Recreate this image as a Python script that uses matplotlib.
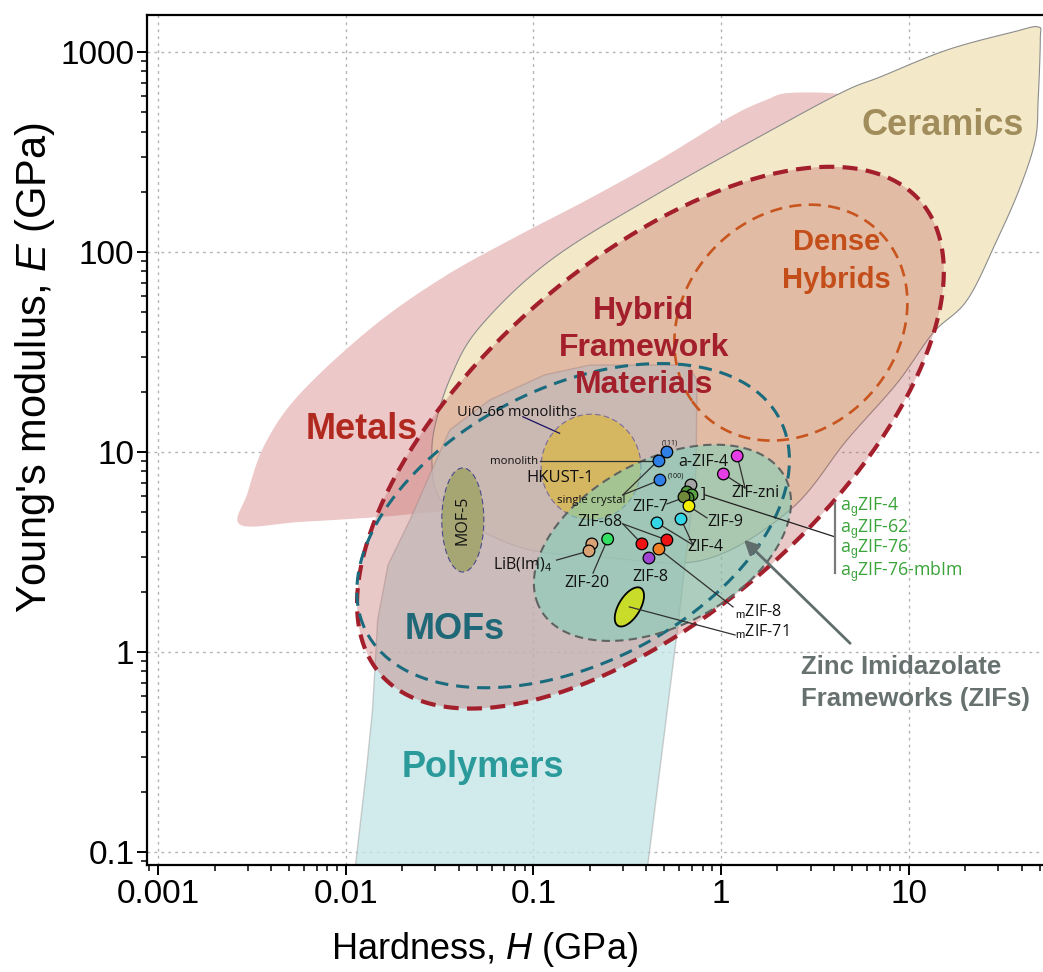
import numpy as np
import matplotlib
matplotlib.use("Agg")
import matplotlib.pyplot as plt
from matplotlib.ticker import FixedLocator, LogLocator, NullFormatter

plt.rcParams['font.family'] = ['Liberation Sans', 'DejaVu Sans']
plt.rcParams['mathtext.fontset'] = 'custom'
plt.rcParams['mathtext.rm'] = 'Liberation Sans'
plt.rcParams['mathtext.it'] = 'Liberation Sans:italic'
plt.rcParams['mathtext.bf'] = 'Liberation Sans:bold'

# ---- region outlines (H = hardness, E = modulus, both GPa)
metals_H = [0.00275, 0.0030, 0.00374, 0.00575, 0.0139, 0.0333, 0.0807, 0.193, 0.467,
            1.117, 1.738, 2.33, 4.70, 9.0, 16.6, 9.0, 3.37, 0.773, 0.226, 0.0519,
            0.0317, 0.0152, 0.00575]
metals_E = [4.32, 6.24, 11.1, 19.7, 42.2, 75.0, 119, 182, 288,
            473, 575, 624, 610, 513, 182, 40.7, 11.5, 4.07, 3.85, 4.84,
            5.01, 4.73, 4.47]

ceram_H = [49.0, 36.1, 16.0, 7.05, 4.70, 2.33, 0.467, 0.124, 0.0519, 0.0363, 0.0298,
           0.0288, 0.0302, 0.0359, 0.0519, 0.0958, 0.226, 0.802, 2.33, 4.70, 8.68,
           13.5, 20.5, 29.6, 39.3, 47.3, 49.0, 50.3]
ceram_E = [1334, 1259, 1023, 750, 646, 457, 197, 91.2, 42.2, 23.7, 13.3,
           9.12, 6.46, 5.13, 4.07, 3.24, 2.99, 2.88, 5.13, 11.5, 22.1,
           39.4, 57.5, 115, 211, 363, 575, 1148]

poly_H = [0.0108, 0.388, 0.590, 0.736, 0.745, 0.667, 0.200, 0.115, 0.0586, 0.0359,
          0.0288, 0.0220, 0.0168, 0.0148, 0.0143, 0.0139, 0.0129]
poly_E = [0.06, 0.06, 1.36, 8.04, 22.9, 27.2, 27.2, 24.3, 18.2, 12.9,
          8.13, 4.57, 2.72, 1.445, 0.813, 0.513, 0.257]

hfm_H = [2.06, 4.70, 8.68, 12.5, 15.3, 14.2, 10.6, 6.01, 3.50, 2.64, 1.76, 0.988, 0.582,
         0.315, 0.138, 0.0958, 0.0391, 0.0187, 0.0123, 0.01145, 0.0152, 0.0281, 0.0416,
         0.124, 0.467]
hfm_E = [248, 263, 211, 150, 84.1, 39.4, 22.1, 10.2, 4.73, 3.35, 2.29, 1.97, 1.33,
         0.912, 0.646, 0.575, 0.513, 0.575, 0.881, 1.76, 4.57, 11.9, 21.6,
         72.4, 145]

mofs_H = [0.200, 0.718, 1.738, 2.25, 2.11, 1.675, 1.262, 0.582, 0.315, 0.138, 0.0639,
          0.0317, 0.0187, 0.0146, 0.0139, 0.0168, 0.0228, 0.0317, 0.0639]
mofs_E = [24.3, 22.9, 16.2, 11.1, 4.73, 3.24, 2.21, 1.55, 1.15, 0.861, 0.684,
          0.631, 0.708, 0.912, 1.76, 3.76, 6.68, 10.6, 19.7]

dense_H = [3.50, 2.33, 1.117, 0.718, 0.575, 0.718, 1.393, 2.06, 3.81, 7.05, 9.35, 9.82, 6.2]
dense_E = [178, 168, 124, 75.0, 35.1, 16.2, 11.9, 11.9, 13.3, 22.1, 39.4, 70.0, 129]

zif_H = [0.802, 1.217, 1.825, 2.25, 2.14, 1.675, 1.117, 0.604, 0.327, 0.177, 0.112,
         0.0958, 0.108, 0.177, 0.327, 0.627]
zif_E = [11.2, 10.6, 8.41, 5.75, 3.63, 2.57, 1.88, 1.33, 1.19, 1.24, 1.50,
         2.11, 3.24, 5.31, 7.94, 11.1]

# small ellipses: centre H, centre E, semi-axes (decades), angle (deg)
hkust_ell = (0.203, 8.41, 0.266, 0.264, 0)
mof5_ell = (0.0421, 4.57, 0.26, 0.112, 90)
mzif71_ell = (0.325, 1.68, 0.112, 0.056, 56)

# ---- individual materials
pt_names = ["HKUST-1 (111)", "HKUST-1 monolith", "HKUST-1 (100)", "ZIF-zni", "ZIF-zni",
            "agZIF", "agZIF", "agZIF", "agZIF", "ZIF-7", "ZIF-9", "ZIF-4", "ZIF-4",
            "ZIF-68", "ZIF-68", "mZIF-8", "ZIF-8", "ZIF-20", "LiB(Im)4", "LiB(Im)4"]
pt_H = [0.515, 0.467, 0.473, 1.22, 1.03, 0.692, 0.659, 0.70, 0.667, 0.635, 0.675,
        0.456, 0.612, 0.379, 0.515, 0.467, 0.413, 0.249, 0.205, 0.198]
pt_E = [10.0, 9.02, 7.24, 9.55, 7.76, 6.84, 6.31, 6.10, 5.89, 5.96, 5.37,
        4.42, 4.62, 3.47, 3.63, 3.27, 2.95, 3.67, 3.47, 3.20]
pt_col = ["#2f80e6", "#2f80e6", "#2f80e6", "#e43ee4", "#e43ee4",
          "#a4a4a4", "#4f9a3c", "#5aa444", "#4a8f36", "#6e8a3a", "#f2f000",
          "#34d6e6", "#34d6e6", "#ee1414", "#ee1414", "#f08022", "#a044d2",
          "#34e062", "#d9a274", "#d9a274"]

xticks = [0.001, 0.01, 0.1, 1, 10]
xtick_labels = ["0.001", "0.01", "0.1", "1", "10"]
yticks = [0.1, 1, 10, 100, 1000]
ytick_labels = ["0.1", "1", "10", "100", "1000"]


def smooth_closed(H, E, n=24):
    P = np.column_stack([np.log10(H), np.log10(E)])
    N = len(P)
    t = np.linspace(0, 1, n, endpoint=False)[:, None]
    out = []
    for i in range(N):
        p0, p1, p2, p3 = P[i - 1], P[i], P[(i + 1) % N], P[(i + 2) % N]
        out.append(0.5 * (2 * p1 + (p2 - p0) * t + (2 * p0 - 5 * p1 + 4 * p2 - p3) * t ** 2
                          + (3 * p1 - p0 - 3 * p2 + p3) * t ** 3))
    out.append(out[0][:1])
    pts = np.vstack(out)
    return 10 ** pts[:, 0], 10 ** pts[:, 1]


def fit_ellipse(H, E, n=300):
    # algebraic conic fit in log-log space
    x = np.log10(H); y = np.log10(E)
    mx, my = x.mean(), y.mean()
    x = x - mx; y = y - my
    A = np.column_stack([x * x, x * y, y * y, x, y])
    a, b, c, d, e = np.linalg.lstsq(A, np.ones_like(x), rcond=None)[0]
    x0, y0 = np.linalg.solve([[2 * a, b], [b, 2 * c]], [-d, -e])
    k = 1 - (a * x0 * x0 + b * x0 * y0 + c * y0 * y0 + d * x0 + e * y0)
    w, V = np.linalg.eigh([[a, b / 2], [b / 2, c]])
    t = np.linspace(0, 2 * np.pi, n)
    r = np.sqrt(k / w)
    pts = V @ np.vstack([r[0] * np.cos(t), r[1] * np.sin(t)])
    return 10 ** (pts[0] + x0 + mx), 10 ** (pts[1] + y0 + my)


def ellipse(H0, E0, a, b, ang, n=120):
    t = np.linspace(0, 2 * np.pi, n)
    th = np.radians(ang)
    u = np.log10(H0) + a * np.cos(t) * np.cos(th) - b * np.sin(t) * np.sin(th)
    v = np.log10(E0) + a * np.cos(t) * np.sin(th) + b * np.sin(t) * np.cos(th)
    return 10 ** u, 10 ** v


fig = plt.figure(figsize=(10.43, 9.72), dpi=100)
ax = fig.add_axes([0.1409, 0.1101, 0.8591, 0.8745])
ax.set_xscale("log"); ax.set_yscale("log")
ax.set_xlim(0.000873, 52); ax.set_ylim(0.0861, 1531)

# property-space fills
ax.fill(*smooth_closed(metals_H, metals_E), color="#ecc8c8", lw=0, zorder=1)
ax.fill(*smooth_closed(ceram_H, ceram_E), facecolor="#f3e9c8", edgecolor="#8c8c8c", lw=0.8, zorder=1.2)
ax.fill(poly_H, poly_E, facecolor=(0.775, 0.897, 0.902, 0.8),
        edgecolor=(0.6, 0.6, 0.6, 0.45), lw=1.0, zorder=1.4)

hfm = fit_ellipse(hfm_H, hfm_E)
mofs = fit_ellipse(mofs_H, mofs_E)
dense = fit_ellipse(dense_H, dense_E)
zif = fit_ellipse(zif_H, zif_E)

ax.fill(*hfm, color="#c16662", alpha=0.35, lw=0, zorder=2)
ax.fill(*ellipse(*hkust_ell), facecolor="#d6b65a", alpha=0.92, edgecolor="none", zorder=2.2)
ax.plot(*ellipse(*hkust_ell), color="#7a6a9a", lw=0.8, dashes=(5, 3), zorder=2.25)
ax.fill(*ellipse(*mof5_ell), facecolor="#a3a56e", alpha=0.92, edgecolor="none", zorder=2.2)
ax.plot(*ellipse(*mof5_ell), color="#4a4a8a", lw=0.8, dashes=(5, 3), zorder=2.25)
ax.fill(*zif, color="#7dd2b9", alpha=0.55, lw=0, zorder=2.3)

ax.plot(*hfm, color="#a31f2c", lw=3.0, dashes=(3.6, 2.0), zorder=3)
ax.plot(*dense, color="#c8541e", lw=1.9, dashes=(4.6, 2.8), zorder=3)
ax.plot(*mofs, color="#1a6b7d", lw=2.2, dashes=(4.3, 2.6), zorder=3.1)
ax.plot(*zif, color="#5f6462", lw=1.5, dashes=(4, 2.5), zorder=3.2)
ax.fill(*ellipse(*mzif71_ell), facecolor="#cadc2a", edgecolor="black", lw=1.3, zorder=4)

# leader lines
lines = [((0.0879, 0.138), (15.0, 12.4), "#1a1060"),
         ((0.108, 0.467), (9.02, 9.02), "#303030"),
         ((0.300, 0.515), (6.10, 10.0), "#303030"),
         ((0.300, 0.473), (6.10, 7.24), "#303030"),
         ((1.343, 1.22), (6.61, 9.55), "#303030"),
         ((1.343, 1.03), (6.61, 7.76), "#303030"),
         ((0.515, 0.65), (5.50, 5.96), "#303030"),
         ((0.842, 0.684), (4.68, 5.31), "#303030"),
         ((0.300, 0.379), (4.37, 3.47), "#303030"),
         ((0.300, 0.515), (4.37, 3.63), "#303030"),
         ((0.709, 0.456), (3.43, 4.42), "#303030"),
         ((0.709, 0.612), (3.43, 4.62), "#303030"),
         ((0.133, 0.198), (2.88, 3.20), "#303030"),
         ((0.208, 0.249), (2.48, 3.67), "#303030"),
         ((1.159, 0.467), (1.68, 3.27), "#303030"),
         ((1.188, 0.325), (1.216, 1.68), "#303030"),
         ((0.822, 4.06), (6.10, 3.76), "#202020")]
for xs, ys, c in lines:
    ax.plot(xs, ys, color=c, lw=0.9, zorder=5)
ax.plot([4.06, 4.06], [5.56, 2.48], color="#7a7a7a", lw=1.6, zorder=5)

ax.scatter(pt_H, pt_E, s=70, c=pt_col, edgecolors="black", linewidths=0.9, zorder=6)

ax.annotate("", xy=(1.294, 3.72), xytext=(5.0, 1.08),
            arrowprops=dict(arrowstyle="-|>", color="#5f6e6c", lw=2.0,
                            mutation_scale=22), zorder=5)

# big region labels
big = dict(fontweight="bold", ha="center", va="center", zorder=7)
ax.text(15.1, 431, "Ceramics", color="#a18c5c", fontsize=26, **big)
ax.text(0.01217, 12.9, "Metals", color="#b0281e", fontsize=26, **big)
ax.text(0.0381, 1.29, "MOFs", color="#1e6878", fontsize=26, **big)
ax.text(0.0538, 0.263, "Polymers", color="#2a9a9a", fontsize=26, **big)
ax.text(4.11, 90.2, "Dense\nHybrids", color="#c44e1a", fontsize=21, linespacing=1.45, **big)
ax.text(0.388, 33.1, "Hybrid\nFramework\nMaterials", color="#a31f2c", fontsize=23,
        linespacing=1.32, **big)
ax.text(2.67, 0.70, "Zinc Imidazolate\nFrameworks (ZIFs)", color="#67716f", fontsize=18.5,
        fontweight="bold", ha="left", va="center", linespacing=1.38, zorder=7)

# small material labels
LBL = ["Open Sans", "DejaVu Sans"]
def lab(x, y, s, size=11.5, ha="center", color="#111111", **kw):
    ax.text(x, y, s, fontsize=size, ha=ha, va="center", color=color, family=LBL,
            zorder=8, **kw)

lab(0.0391, 15.8, "UiO-66 monoliths", 10.5, ha="left")
lab(0.1057, 8.91, "monolith", 8.2, ha="right")
lab(0.0923, 7.41, "HKUST-1", 12, ha="left")
lab(0.203, 5.75, "single crystal", 8.2)
lab(0.535, 11.1, "(111)", 5)
lab(0.522, 7.59, "(100)", 5, ha="left")
lab(0.802, 8.91, "a-ZIF-4", 11.5)
lab(1.518, 6.24, "ZIF-zni", 11.5)
lab(0.418, 5.31, "ZIF-7", 11.5)
lab(1.05, 4.47, "ZIF-9", 11.5)
lab(0.226, 4.47, "ZIF-68", 11.5)
lab(0.822, 3.35, "ZIF-4", 11.5)
lab(0.0879, 2.72, "LiB(Im)$_4$", 11.5)
lab(0.193, 2.21, "ZIF-20", 11.5)
lab(0.418, 2.37, "ZIF-8", 11.5)
lab(1.188, 1.585, r"$_\mathrm{m}$ZIF-8", 11.5, ha="left")
lab(1.188, 1.26, r"$_\mathrm{m}$ZIF-71", 11.5, ha="left")
lab(0.802, 6.17, "]", 11)
ag_labels = [r"a$_\mathrm{g}$ZIF-4", r"a$_\mathrm{g}$ZIF-62", r"a$_\mathrm{g}$ZIF-76",
             r"a$_\mathrm{g}$ZIF-76-mbIm"]
for s, y in zip(ag_labels, [5.31, 4.12, 3.24, 2.51]):
    lab(4.31, y, s, 12.8, ha="left", color="#3aa33a")
ax.text(0.0421, 4.57, "MOF-5", fontsize=11.5, rotation=90, ha="center", va="center",
        family=LBL, color="#111111", zorder=8)

# axes styling
ax.xaxis.set_major_locator(FixedLocator(xticks))
ax.set_xticklabels(xtick_labels)
ax.yaxis.set_major_locator(FixedLocator(yticks))
ax.set_yticklabels(ytick_labels)
for axis in (ax.xaxis, ax.yaxis):
    axis.set_minor_locator(LogLocator(base=10, subs=np.arange(2, 10)))
    axis.set_minor_formatter(NullFormatter())
ax.tick_params(which="major", direction="out", length=7, width=1.4, labelsize=24, pad=3)
ax.tick_params(which="minor", direction="out", length=4, width=1.1)
ax.tick_params(axis="y", which="major", pad=2)
ax.grid(True, which="major", color="#b4b4b4", lw=1.0, linestyle=(0, (2, 3)))
ax.set_axisbelow(True)
for s in ("left", "bottom", "top"):
    ax.spines[s].set_linewidth(1.6)
ax.spines["right"].set_visible(False)

ax.set_xlabel("Hardness, $H$ (GPa)", fontsize=26, va="center")
ax.set_ylabel("Young's modulus, $E$ (GPa)", fontsize=30, va="center")
ax.xaxis.set_label_coords(0.377, -0.10)
ax.yaxis.set_label_coords(-0.125, 0.585)

fig.savefig("out.png", dpi=100)
